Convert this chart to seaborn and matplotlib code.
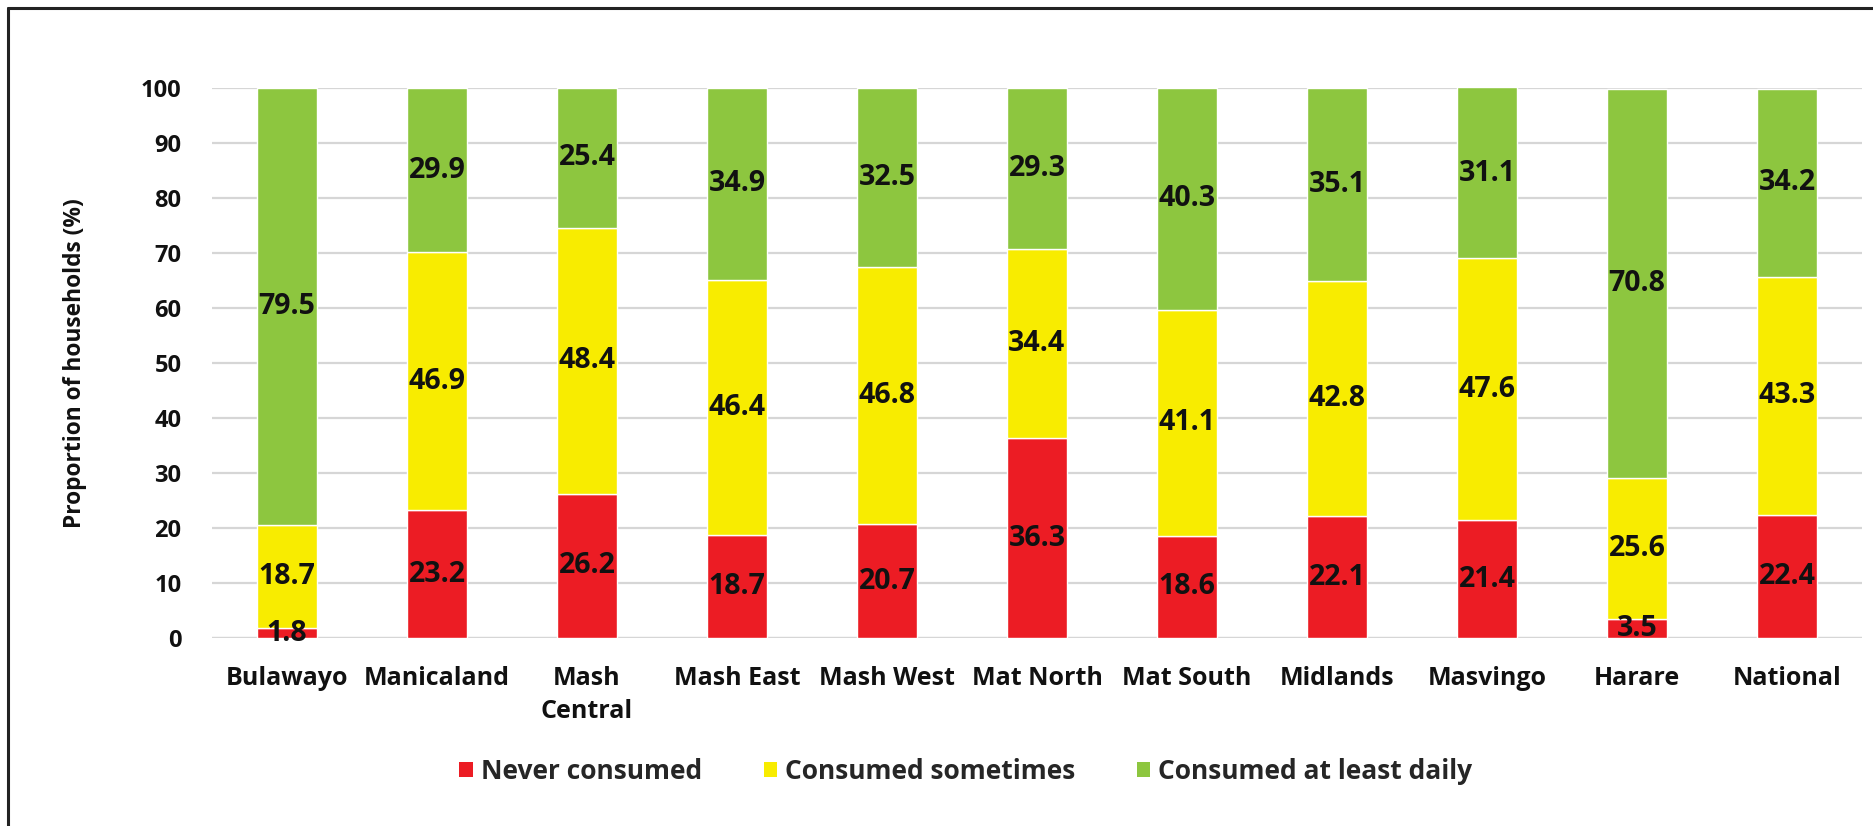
import matplotlib
matplotlib.use("Agg")
import matplotlib.pyplot as plt
from matplotlib.lines import Line2D
from matplotlib.patches import Patch
import seaborn as sns
import numpy as np

# Household consumption frequency by province
regions = ["Bulawayo", "Manicaland", "Mash Central", "Mash East", "Mash West",
           "Mat North", "Mat South", "Midlands", "Masvingo", "Harare", "National"]
tick_labels = ["Bulawayo", "Manicaland", "Mash\nCentral", "Mash East", "Mash West",
               "Mat North", "Mat South", "Midlands", "Masvingo", "Harare", "National"]
never = [1.8, 23.2, 26.2, 18.7, 20.7, 36.3, 18.6, 22.1, 21.4, 3.5, 22.4]
sometimes = [18.7, 46.9, 48.4, 46.4, 46.8, 34.4, 41.1, 42.8, 47.6, 25.6, 43.3]
daily = [79.5, 29.9, 25.4, 34.9, 32.5, 29.3, 40.3, 35.1, 31.1, 70.8, 34.2]
series_names = ["Never consumed", "Consumed sometimes", "Consumed at least daily"]
y_ticks = [0, 10, 20, 30, 40, 50, 60, 70, 80, 90, 100]

colors = ["#EC1C24", "#F8EC00", "#8DC63F"]

sns.set_theme(style="white")
plt.rcParams["font.family"] = ["Open Sans", "DejaVu Sans"]
plt.rcParams["font.weight"] = "bold"

TXT = "#111111"

fig = plt.figure(figsize=(18.74, 8.26), dpi=100)
ax = fig.add_axes([0.1131, 0.2276, 0.8805, 0.6659])

bottom = np.zeros(len(regions))
for name, vals, col in zip(series_names, [never, sometimes, daily], colors):
    vals = np.array(vals)
    sns.barplot(x=regions, y=vals, bottom=bottom, color=col, width=0.4,
                ax=ax, label=name, saturation=1)
    cont = ax.containers[-1]
    ax.bar_label(cont, labels=[f"{v:.1f}" for v in vals], label_type="center",
                 fontsize=20.5, fontweight="bold", color=TXT)
    bottom = bottom + vals

ax.set_xlim(-0.5, 10.5)
ax.set_ylim(0, 100)
ax.set_yticks(y_ticks)
ax.set_yticklabels([str(t) for t in y_ticks], fontsize=17, fontweight="bold", color=TXT)
ax.set_xticks(range(len(regions)))
ax.set_xticklabels(tick_labels, fontsize=18, fontweight="bold", color=TXT,
                   linespacing=1.45)
ax.tick_params(axis="x", length=0, pad=20)
ax.tick_params(axis="y", length=0, pad=22)
ax.yaxis.grid(True, color="#D6D6D6", linewidth=1.6)
ax.set_axisbelow(True)
for s in ax.spines.values():
    s.set_visible(False)
ax.axhline(0, color="#D6D6D6", linewidth=1.6, zorder=0.5)
ax.set_xlabel("")
ax.set_ylabel("Proportion of households (%)", fontsize=16.4, fontweight="bold",
              color=TXT)
ax.yaxis.set_label_coords(-0.076, 0.5)

if ax.get_legend() is not None:
    ax.get_legend().remove()
handles = [Patch(facecolor=c, edgecolor="none") for c in colors]
fig.legend(handles, series_names, loc="center", bbox_to_anchor=(0.5154, 0.066),
           ncol=3, frameon=False, fontsize=19, handlelength=0.5, handleheight=0.5,
           handletextpad=0.3, columnspacing=2.35)

# frame lines along the top and left edges
fig.add_artist(Line2D([0.0043, 0.0043], [0.0, 0.9903], transform=fig.transFigure,
                      color="#222222", linewidth=2.2))
fig.add_artist(Line2D([0.0043, 1.0], [0.9903, 0.9903], transform=fig.transFigure,
                      color="#222222", linewidth=2.2))

fig.savefig("out.png", dpi=100, facecolor="white")
